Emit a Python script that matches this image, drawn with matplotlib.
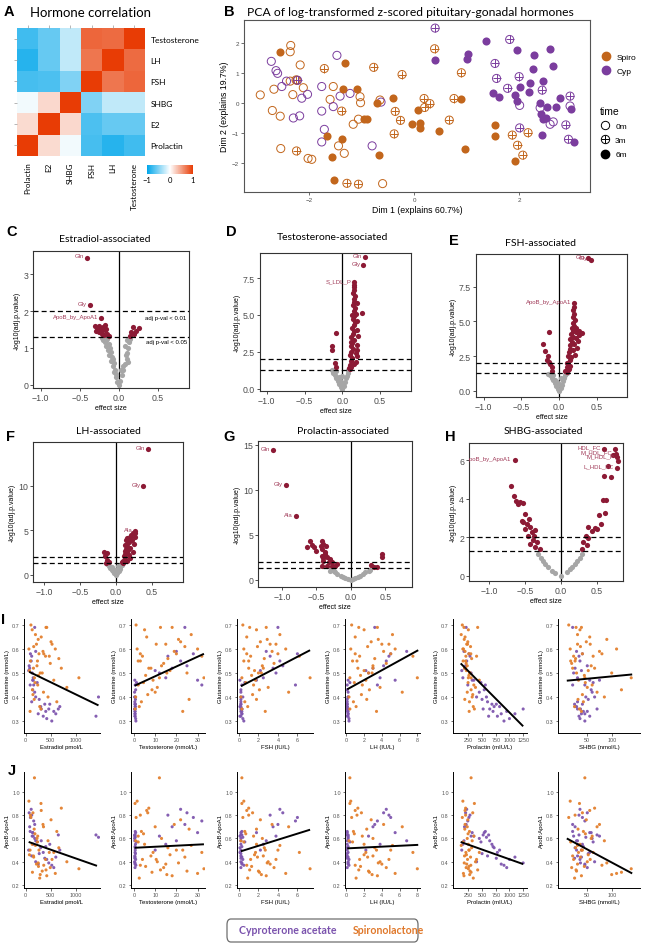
import numpy as np
import matplotlib
matplotlib.use("Agg")
import matplotlib.pyplot as plt
from matplotlib.colors import LinearSegmentedColormap
from matplotlib.lines import Line2D
from matplotlib.patches import FancyBboxPatch

# ---------------- data ----------------
# A: hormone correlation (rows top->bottom, columns left->right)
corr_rows = ["Testosterone", "LH", "FSH", "SHBG", "E2", "Prolactin"]
corr_cols = ["Prolactin", "E2", "SHBG", "FSH", "LH", "Testosterone"]
corr_vals = [
    [-0.75, -0.60, -0.25, 0.78, 0.75, 1.00],
    [-0.85, -0.60, -0.25, 0.70, 1.00, 0.75],
    [-0.72, -0.70, -0.50, 1.00, 0.70, 0.78],
    [-0.05, 0.20, 1.00, -0.50, -0.25, -0.25],
    [0.18, 1.00, 0.20, -0.70, -0.60, -0.60],
    [1.00, 0.18, -0.05, -0.72, -0.85, -0.75],
]

# B: PCA scores (dim1, dim2), arm and time point
pca_spiro_6m = [(-2.55, 1.72), (-1.31, 1.33), (-1.35, 0.49), (-1.09, 0.47), (-0.71, 0.01),
                (-0.41, 0.17), (-0.95, -0.53), (-0.89, -0.51), (-1.66, -1.09), (-1.37, -1.18),
                (-1.56, -1.78), (-0.66, -1.72), (-1.52, -2.57), (-0.04, -0.70), (0.08, -0.23),
                (0.12, -0.67), (0.12, -0.83), (0.48, -0.93), (0.90, 0.16), (0.97, -1.51),
                (1.54, -0.73), (1.55, -1.08), (1.93, -1.94)]
pca_spiro_0m = [(-2.93, 0.28), (-2.67, 0.47), (-2.55, -0.43), (-2.70, -0.24), (-2.54, -1.51),
                (-2.35, 1.93), (-2.36, 1.72), (-2.17, 1.28), (-2.36, 0.74), (-2.31, 0.29),
                (-2.23, 0.77), (-2.11, 0.52), (-2.02, -1.84), (-1.95, -1.87), (-1.54, 0.56),
                (-1.44, -1.42), (-1.33, -1.67), (-1.16, -0.70), (-1.06, -0.53), (-1.03, 0.22),
                (-1.02, 0.02), (-0.65, 0.11), (-0.60, -2.68), (-1.60, 0.13)]
pca_spiro_3m = [(-1.71, 1.16), (-0.77, 1.20), (-0.23, 0.96), (0.39, 1.82), (0.90, 1.02),
                (-2.24, -1.59), (-1.38, -0.26), (-0.36, -0.27), (-0.26, -0.57), (-0.38, -1.02),
                (-1.28, -2.67), (-1.06, -2.70), (0.19, 0.16), (0.30, -0.01), (0.20, -0.14),
                (0.67, -0.56), (0.76, 0.16), (1.87, -1.06), (2.17, -0.98), (1.97, -1.40),
                (2.07, -1.73), (-2.25, 0.78)]
pca_cyp_6m = [(0.39, 1.44), (1.02, 1.63), (1.00, 1.49), (1.36, 2.08), (1.96, 1.78),
              (2.29, 1.60), (2.58, 1.80), (2.64, 1.24), (2.27, 1.13), (2.46, 0.74),
              (2.21, 0.67), (2.02, 0.56), (1.51, 0.36), (1.62, 0.21), (1.92, 0.27),
              (1.96, 0.09), (2.18, 0.38), (2.39, 0.00), (2.53, -0.14), (2.78, 0.17),
              (2.70, -0.14), (2.98, -0.20), (2.42, -0.37), (2.46, -0.53), (2.51, -0.50),
              (2.43, -1.06), (3.05, -1.28)]
pca_cyp_0m = [(-2.72, 1.40), (-2.63, 1.09), (-2.60, 1.00), (-1.47, 1.60), (-2.43, 0.74),
              (-2.52, 0.56), (-2.30, -0.49), (-2.18, -0.42), (-2.14, 0.17), (-2.03, 0.30),
              (-1.76, 0.56), (-1.76, -0.26), (-1.54, -0.11), (-1.41, 0.24), (-1.22, 0.33),
              (-1.71, -0.87), (-1.76, -1.29), (-0.80, -1.42), (-0.63, 0.04), (2.01, -0.07),
              (2.65, -0.62), (2.59, -0.70), (2.97, -0.09), (2.40, -0.15)]
pca_cyp_3m = [(0.40, 2.51), (1.82, 2.13), (1.54, 1.33), (1.57, 0.83), (1.78, 0.50),
              (2.00, 0.89), (2.44, 0.44), (2.97, 0.24), (2.89, -0.72), (2.01, -0.82),
              (2.94, -1.20), (-2.22, 0.77)]

# C-H: volcano plots (effect size, -log10 adj p)
vol_estradiol = [(-0.405, 3.45), (-0.37, 2.16), (-0.225, 1.81),
                 (-0.31, 1.58), (-0.28, 1.55), (-0.25, 1.60), (-0.22, 1.52), (-0.20, 1.57),
                 (-0.18, 1.48), (-0.16, 1.52), (-0.29, 1.45), (-0.25, 1.42), (-0.21, 1.38),
                 (-0.15, 1.38), (-0.12, 1.33), (-0.27, 1.48), (-0.18, 1.62), (-0.23, 1.45),
                 (-0.19, 1.34), (0.18, 1.56), (0.26, 1.55), (0.22, 1.47), (0.16, 1.42),
                 (0.20, 1.38), (0.14, 1.32),
                 (0.0, 0.0), (-0.02, 0.08), (-0.04, 0.20), (-0.06, 0.35), (-0.08, 0.50),
                 (-0.10, 0.65), (-0.12, 0.80), (-0.14, 0.95), (-0.16, 1.05), (-0.18, 1.15),
                 (-0.20, 1.22), (-0.22, 1.28), (-0.05, 0.40), (-0.09, 0.75), (-0.13, 1.10),
                 (-0.07, 0.70), (-0.11, 1.00), (-0.15, 1.25), (-0.03, 0.30), (-0.06, 0.60),
                 (0.02, 0.10), (0.04, 0.25), (0.06, 0.40), (0.08, 0.55), (0.10, 0.70),
                 (0.11, 0.85), (0.12, 1.00), (0.13, 1.15), (0.14, 1.25), (0.05, 0.50),
                 (0.09, 0.80), (0.03, 0.40), (-0.10, 0.90), (-0.17, 1.20), (0.08, 1.05),
                 (0.10, 1.20), (0.12, 0.62)]
lab_estradiol = [("Gln", -0.405, 3.45), ("Gly", -0.37, 2.16), ("ApoB_by_ApoA1", -0.225, 1.81)]

vol_testosterone = [(0.30, 8.92), (0.28, 8.40), (0.16, 7.23), (0.26, 5.13),
                    (-0.09, 3.77), (-0.14, 2.87), (-0.13, 2.64), (-0.10, 1.74), (-0.08, 1.47),
                    (0.09, 1.4), (0.10, 1.6), (0.12, 1.5), (0.11, 1.9), (0.13, 2.1), (0.10, 2.3),
                    (0.12, 2.5), (0.14, 2.7), (0.11, 2.9), (0.13, 3.1), (0.15, 3.3), (0.12, 3.5),
                    (0.14, 3.7), (0.16, 3.9), (0.13, 4.1), (0.15, 4.3), (0.17, 4.5), (0.14, 4.7),
                    (0.16, 4.9), (0.18, 5.1), (0.15, 5.3), (0.17, 5.5), (0.14, 5.7), (0.16, 5.9),
                    (0.15, 6.1), (0.17, 6.3), (0.14, 6.5), (0.16, 6.7), (0.15, 6.9), (0.16, 7.05),
                    (0.20, 3.0), (0.19, 4.0), (0.20, 2.2), (0.18, 1.8), (0.21, 3.6), (0.19, 2.6),
                    (0.10, 1.32), (0.16, 1.7), (0.18, 2.4), (0.12, 3.2), (0.20, 4.6), (0.13, 5.0),
                    (0.19, 5.8),
                    (0.0, 0.0), (-0.02, 0.15), (-0.04, 0.35), (-0.06, 0.55), (-0.08, 0.75),
                    (-0.10, 0.95), (-0.12, 1.10), (-0.13, 1.25), (-0.05, 0.80), (-0.08, 1.20),
                    (-0.03, 0.60), (0.02, 0.20), (0.04, 0.45), (0.05, 0.70), (0.06, 0.90),
                    (0.07, 1.10), (0.08, 1.25), (-0.01, 0.40), (0.00, 0.90), (-0.10, 1.28)]
lab_testosterone = [("Gln", 0.30, 8.92), ("Gly", 0.28, 8.40), ("S_LDL_P", 0.16, 7.23)]

vol_fsh = [(0.39, 9.55), (0.42, 9.45), (0.20, 6.33),
           (-0.13, 4.22), (-0.21, 3.38), (-0.18, 2.83), (-0.15, 2.47), (-0.13, 2.07),
           (-0.10, 1.70), (-0.09, 1.40), (-0.12, 1.90), (-0.16, 2.20),
           (0.08, 1.4), (0.10, 1.7), (0.12, 1.5), (0.11, 2.0), (0.14, 2.2), (0.12, 2.5),
           (0.16, 2.4), (0.13, 2.8), (0.15, 3.0), (0.18, 2.9), (0.14, 3.3), (0.17, 3.5),
           (0.20, 3.4), (0.15, 3.7), (0.18, 3.9), (0.22, 3.8), (0.16, 4.1), (0.19, 4.3),
           (0.23, 4.2), (0.30, 4.15), (0.27, 4.0), (0.17, 4.5), (0.20, 4.7), (0.18, 4.9),
           (0.21, 5.1), (0.19, 5.3), (0.20, 5.5), (0.19, 5.8), (0.20, 6.0), (0.10, 1.32),
           (0.14, 1.8), (0.21, 2.6), (0.24, 3.1), (0.25, 3.6), (0.13, 1.6), (0.22, 4.5),
           (0.26, 4.3),
           (0.0, 0.0), (-0.02, 0.15), (-0.04, 0.35), (-0.06, 0.55), (-0.08, 0.75),
           (-0.10, 0.95), (-0.12, 1.10), (-0.14, 1.22), (-0.05, 0.80), (-0.08, 1.15),
           (-0.03, 0.60), (0.02, 0.20), (0.04, 0.45), (0.05, 0.70), (0.06, 0.90),
           (0.08, 1.10), (0.10, 1.25), (0.00, 0.50), (0.02, 0.90)]
lab_fsh = [("Gln", 0.39, 9.55), ("Gly", 0.42, 9.45), ("ApoB_by_ApoA1", 0.20, 6.33)]

vol_lh = [(0.45, 14.1), (0.38, 10.0), (0.27, 4.9),
          (-0.17, 2.55), (-0.12, 2.40), (-0.15, 2.10), (-0.13, 1.70), (-0.10, 1.47),
          (-0.14, 1.35),
          (0.08, 1.4), (0.10, 1.6), (0.12, 1.8), (0.11, 2.1), (0.13, 2.3), (0.15, 2.5),
          (0.12, 2.7), (0.14, 2.9), (0.16, 3.1), (0.13, 3.3), (0.15, 3.5), (0.18, 3.7),
          (0.14, 3.9), (0.16, 4.1), (0.19, 4.3), (0.21, 4.5), (0.24, 4.7), (0.27, 4.75),
          (0.22, 3.9), (0.25, 3.5), (0.20, 3.0), (0.23, 2.6), (0.18, 2.2), (0.20, 1.9),
          (0.16, 1.6), (0.10, 1.32), (0.26, 4.2), (0.17, 2.8), (0.12, 1.5),
          (0.0, 0.0), (-0.02, 0.20), (-0.04, 0.40), (-0.06, 0.60), (-0.08, 0.80),
          (-0.10, 1.00), (-0.12, 1.20), (-0.05, 0.90), (-0.03, 0.60), (0.02, 0.20),
          (0.04, 0.45), (0.05, 0.70), (0.06, 0.90), (0.08, 1.10), (0.09, 1.25),
          (0.00, 0.60), (0.03, 1.00)]
lab_lh = [("Gln", 0.45, 14.1), ("Gly", 0.38, 10.0), ("Ala", 0.27, 4.9)]

vol_prolactin = [(-1.13, 14.4), (-0.95, 10.55), (-0.80, 7.06),
                 (-0.60, 4.35), (-0.64, 3.68), (-0.57, 3.87), (-0.53, 3.60), (-0.50, 3.23),
                 (-0.42, 4.35), (-0.40, 3.97), (-0.42, 3.42), (-0.37, 3.05), (-0.42, 2.68),
                 (-0.35, 2.49), (-0.40, 2.12), (-0.32, 1.93), (-0.28, 2.00), (-0.35, 1.56),
                 (-0.28, 1.56), (-0.23, 1.49), (-0.30, 2.30), (-0.36, 3.72), (-0.38, 2.86),
                 (-0.42, 1.56), (-0.20, 1.75), (-0.44, 3.80), (-0.41, 2.40),
                 (0.45, 2.86), (0.45, 2.49), (0.30, 1.64), (0.34, 1.45), (0.38, 1.38),
                 (-0.25, 1.00), (-0.20, 0.63), (-0.15, 0.37), (-0.08, 0.15), (0.0, 0.0),
                 (0.06, 0.15), (0.14, 0.45), (0.21, 0.82), (0.28, 1.10), (-0.29, 1.20),
                 (-0.23, 0.82), (-0.12, 0.26), (0.11, 0.26), (0.26, 1.00), (-0.30, 0.95),
                 (0.18, 0.62), (-0.04, 0.05), (0.03, 0.05)]
lab_prolactin = [("Gln", -1.13, 14.4), ("Gly", -0.95, 10.55), ("Ala", -0.80, 7.06)]

vol_shbg = [(-0.645, 6.0),
            (0.59, 6.60), (0.75, 6.57), (0.76, 6.34), (0.78, 6.17), (0.72, 6.28),
            (0.79, 5.97), (0.77, 5.62), (0.65, 5.71), (0.60, 5.17), (0.70, 5.14),
            (-0.69, 4.67), (-0.65, 4.16), (-0.62, 3.90), (-0.575, 3.86), (-0.53, 3.81),
            (-0.60, 3.72), (-0.50, 3.20), (-0.55, 2.86), (-0.48, 2.69), (-0.43, 2.52),
            (-0.50, 2.43), (-0.41, 2.26), (-0.36, 2.38), (-0.46, 2.09), (-0.39, 1.86),
            (-0.34, 1.74), (-0.43, 1.66), (-0.36, 1.48), (-0.29, 1.40), (-0.53, 2.78),
            (-0.45, 2.95), (-0.38, 2.10),
            (0.58, 3.93), (0.63, 3.93), (0.61, 3.26), (0.52, 3.16), (0.56, 2.69),
            (0.47, 2.48), (0.38, 2.52), (0.43, 2.31), (0.34, 2.09), (0.38, 1.97),
            (0.31, 1.74), (0.36, 1.62), (0.29, 1.40), (0.50, 2.43),
            (-0.32, 1.14), (-0.25, 0.79), (-0.18, 0.45), (-0.08, 0.14), (0.0, 0.0),
            (0.08, 0.19), (0.15, 0.45), (0.22, 0.79), (0.29, 1.14), (-0.22, 0.62),
            (0.13, 0.36), (-0.28, 0.95), (0.26, 0.95), (-0.12, 0.28), (0.19, 0.62)]
lab_shbg = [("ApoB_by_ApoA1", -0.645, 6.0), ("HDL_FC", 0.59, 6.60), ("M_HDL_FC", 0.76, 6.34),
            ("M_HDL_P", 0.78, 6.17), ("L_HDL_FC", 0.77, 5.62)]

# I-J: per-subject hormone and metabolite values (Cyp first, then Spiro)
subject_group = ["Cyp"] * 36 + ["Spiro"] * 44
estradiol = [120, 250, 300, 180, 420, 560, 650, 480, 350, 90, 200, 310, 520, 600, 680, 150, 270, 400,
             1400, 1450, 230, 380, 460, 140,
             80, 110, 150, 95, 130, 70, 200, 160, 120, 60, 180, 140,
             65, 95, 130, 155, 175, 215, 240, 265, 310, 330, 355, 395, 420, 445, 490, 505, 560, 590,
             620, 660, 710, 820, 1060, 105, 160, 225, 280, 345, 255, 195, 135, 75, 305, 250, 185,
             405, 470, 145, 235, 290, 525, 170, 360, 88]
testosterone = [0.4, 0.5, 0.6, 0.3, 0.8, 0.5, 0.4, 0.7, 0.5, 0.6, 0.3, 0.4, 0.9, 0.5, 0.6, 0.4, 0.7, 0.5,
                0.5, 0.6, 1.2, 0.4, 0.5, 0.8,
                18, 22, 15, 28, 12, 25, 20, 32, 16, 10, 24, 30,
                1.5, 3, 5, 8, 12, 15, 2, 20, 6, 25, 10, 4, 18, 0.8, 14, 22, 9, 30, 3.5, 16, 7, 11, 33,
                1, 24, 13, 2.5, 19, 5.5, 27, 8.5, 17, 0.5, 21, 4.5, 12.5, 32, 6.5, 2, 15.5, 10.5, 26,
                3, 23]
fsh = [0.2, 0.3, 0.1, 0.2, 0.4, 0.2, 0.3, 0.2, 0.1, 0.3, 0.2, 0.2, 0.5, 0.3, 0.2, 0.1, 0.2, 0.3,
       0.2, 0.4, 0.6, 0.2, 0.3, 0.2,
       3.5, 4.2, 2.5, 6.0, 3.8, 4.5, 2.8, 5.8, 3.2, 2.2, 4.0, 1.8,
       0.5, 1.0, 1.8, 2.5, 0.3, 3.2, 1.5, 4.0, 0.8, 2.0, 5.1, 1.2, 2.8, 0.2, 3.6, 2.2, 1.7, 4.8,
       0.6, 2.6, 1.0, 3.0, 7.3, 0.4, 1.9, 2.4, 0.9, 3.4, 1.3, 4.2, 2.1, 1.6, 0.3, 2.9, 0.7, 1.1,
       6.2, 1.4, 0.5, 2.3, 3.8, 1.8, 0.8, 2.7]
lh = [0.1, 0.2, 0.1, 0.2, 0.3, 0.1, 0.2, 0.1, 0.2, 0.1, 0.2, 0.1, 0.3, 0.2, 0.1, 0.2, 0.1, 0.2,
      0.1, 0.2, 0.4, 0.1, 0.2, 0.1,
      3.0, 4.5, 3.8, 5.0, 2.5, 4.2, 6.8, 3.5, 4.8, 2.2, 3.2, 5.5,
      0.5, 1.2, 2.0, 3.0, 0.4, 4.0, 1.8, 5.0, 1.0, 2.5, 6.3, 1.5, 3.5, 0.3, 4.5, 2.8, 2.2, 5.5,
      0.8, 3.2, 1.3, 3.8, 8.0, 0.6, 2.4, 3.0, 1.1, 4.2, 1.6, 5.2, 2.6, 2.0, 0.4, 3.6, 0.9, 1.4,
      7.5, 1.7, 0.7, 2.9, 4.8, 2.3, 1.0, 3.4]
prolactin = [600, 850, 720, 450, 1000, 950, 520, 680, 780, 560, 400, 640, 900, 1100, 820, 350, 500,
             700, 620, 580, 480, 760, 1250, 540,
             180, 220, 150, 260, 300, 200, 170, 240, 280, 130, 210, 320,
             150, 200, 250, 180, 300, 220, 350, 260, 190, 280, 230, 400, 170, 320, 210, 240, 450,
             160, 270, 310, 200, 380, 250, 140, 290, 230, 340, 190, 260, 120, 300, 215, 360, 175,
             245, 420, 205, 330, 155, 275, 235, 185, 295, 265]
shbg = [30, 45, 25, 60, 35, 50, 70, 40, 55, 20, 65, 30, 45, 38, 28, 75, 52, 42, 33, 47, 62, 24, 36, 58,
        25, 35, 30, 40, 22, 50, 28, 45, 33, 38, 20, 55,
        15, 25, 35, 20, 45, 30, 60, 40, 55, 28, 70, 22, 38, 85, 18, 48, 32, 110, 42, 26, 65, 50, 140,
        12, 36, 58, 24, 75, 44, 30, 120, 52, 34, 90, 46, 27, 62, 40, 16, 100, 56, 31, 80, 38]
glutamine = [0.38, 0.33, 0.36, 0.42, 0.31, 0.34, 0.35, 0.37, 0.32, 0.45, 0.40, 0.35, 0.30, 0.33,
             0.36, 0.47, 0.39, 0.34, 0.32, 0.40, 0.46, 0.37, 0.35, 0.43,
             0.52, 0.55, 0.48, 0.58, 0.50, 0.53, 0.59, 0.45, 0.57, 0.51, 0.69, 0.47,
             0.60, 0.55, 0.68, 0.52, 0.48, 0.62, 0.45, 0.58, 0.65, 0.50, 0.42, 0.57, 0.69, 0.40,
             0.54, 0.63, 0.47, 0.60, 0.38, 0.56, 0.52, 0.44, 0.48, 0.70, 0.61, 0.53, 0.36, 0.59,
             0.49, 0.66, 0.43, 0.51, 0.35, 0.64, 0.46, 0.69, 0.57, 0.41, 0.55, 0.50, 0.62, 0.39,
             0.58, 0.34]
apob_apoa1 = [0.45, 0.38, 0.52, 0.60, 0.42, 0.35, 0.63, 0.55, 0.48, 0.66, 0.40, 0.58, 0.37, 0.44,
              0.50, 0.62, 0.47, 0.53, 0.63, 0.61, 0.57, 0.43, 0.39, 0.65,
              0.70, 0.85, 0.55, 0.78, 0.62, 0.82, 0.58, 0.75, 0.80, 0.50, 0.72, 0.65,
              0.92, 0.80, 0.55, 0.45, 1.12, 0.38, 0.62, 0.50, 0.84, 0.32, 0.70, 0.42, 0.28, 0.58,
              0.35, 0.76, 0.48, 0.30, 0.66, 0.52, 0.86, 0.40, 0.34, 0.78, 0.44, 0.60, 0.26, 0.72,
              0.36, 0.54, 0.31, 0.46, 0.90, 0.39, 0.64, 0.33, 0.48, 0.82, 0.57, 0.29, 0.42, 0.68,
              0.37, 0.50]
hormone_labels = ["Estradiol pmol/L", "Testosterone (nmol/L)", "FSH (IU/L)", "LH (IU/L)",
                  "Prolactin (mIU/L)", "SHBG (nmol/L)"]
hormone_ticks = [[0, 500, 1000], [0, 10, 20, 30], [0, 2, 4, 6], [0, 2, 4, 6, 8],
                 [250, 500, 750, 1000, 1250], [50, 100]]
# fitted lines: (x start, y start, x end, y end)
gln_fit = [(70, 0.505, 1450, 0.365), (0.3, 0.447, 33, 0.58), (0.2, 0.445, 7.3, 0.595),
           (0.1, 0.432, 8.1, 0.595), (110, 0.54, 1250, 0.278), (8, 0.468, 142, 0.494)]
apob_fit = [(60, 0.57, 1420, 0.365), (0.3, 0.52, 33, 0.55), (0.2, 0.49, 7.3, 0.675),
            (0.1, 0.515, 8.1, 0.545), (110, 0.57, 1250, 0.38), (8, 0.60, 142, 0.30)]

# ---------------- style ----------------
W, H = 650, 945
SPIRO, CYP = "#c2661c", "#7b3d9e"
ORANGE, PURPLE = "#e3802e", "#7e56ae"
SIG_RED, GREY = "#8c1a35", "#a6a6a6"
SANS = ["Liberation Sans", "DejaVu Sans"]
TITLE = ["Lato", "DejaVu Sans"]
P05 = -np.log10(0.05)

plt.rcParams["font.family"] = SANS
fig = plt.figure(figsize=(W / 100, H / 100), dpi=100)


def box(l, t, r, b):
    return [l / W, 1 - b / H, (r - l) / W, (b - t) / H]


def fx(x):
    return x / W


def fy(y):
    return 1 - y / H


def letter(s, x, y):
    fig.text(fx(x), fy(y), s, fontsize=10.5, fontweight="bold", ha="left", va="center")


def title(s, x, y, size=7.5, ha="center"):
    fig.text(fx(x), fy(y), s, fontsize=size, family=TITLE, ha=ha, va="center")


# ---------------- A ----------------
cmap = LinearSegmentedColormap.from_list("rb", ["#00a6ea", "#ffffff", "#e83c05"])
ax = fig.add_axes(box(17, 29, 145, 157))
im = ax.imshow(np.array(corr_vals), cmap=cmap, vmin=-1, vmax=1, aspect="auto")
ax.set_xticks(range(len(corr_cols)))
ax.set_xticklabels(corr_cols, rotation=90, family=TITLE, fontsize=5.8)
ax.set_yticks(range(len(corr_rows)))
ax.set_yticklabels(corr_rows, family=TITLE, fontsize=6)
ax.tick_params(top=True, left=True, bottom=False, right=False, labeltop=False, labelleft=False,
               labelright=True, labelbottom=True, length=2, width=0.5, color="#999999", pad=2)
for s in ax.spines.values():
    s.set_visible(False)
cax = fig.add_axes(box(147, 166, 193, 175))
cb = fig.colorbar(im, cax=cax, orientation="horizontal", ticks=[-1, 0, 1])
cb.outline.set_visible(False)
cb.ax.tick_params(labelsize=5.5, length=0, pad=1.5)
for t in cb.ax.get_xticklabels():
    t.set_family(TITLE)
letter("A", 4, 12)
title("Hormone correlation", 30, 13, size=9.5, ha="left")

# ---------------- B ----------------
ax = fig.add_axes(box(244, 21, 590, 193))
for pts, col in [(pca_spiro_0m, SPIRO), (pca_cyp_0m, CYP)]:
    a = np.array(pts)
    ax.scatter(a[:, 0], a[:, 1], s=34, facecolors="none", edgecolors=col, linewidths=0.7)
for pts, col in [(pca_spiro_3m, SPIRO), (pca_cyp_3m, CYP)]:
    a = np.array(pts)
    ax.scatter(a[:, 0], a[:, 1], s=34, facecolors="none", edgecolors=col, linewidths=0.7)
    ax.scatter(a[:, 0], a[:, 1], s=34, marker="+", c=col, linewidths=0.7)
for pts, col in [(pca_spiro_6m, SPIRO), (pca_cyp_6m, CYP)]:
    a = np.array(pts)
    ax.scatter(a[:, 0], a[:, 1], s=34, c=col, linewidths=0)
ax.set_xlim(-3.24, 3.35)
ax.set_ylim(-2.96, 2.78)
ax.set_xticks([-2, 0, 2])
ax.set_yticks([-2, -1, 0, 1, 2])
ax.tick_params(labelsize=4.5, length=2, width=0.5, color="#333333", labelcolor="#4d4d4d", pad=1.5)
for s in ax.spines.values():
    s.set_color("#555555")
    s.set_linewidth(0.8)
ax.set_xlabel("Dim 1 (explains 60.7%)", fontsize=6.3, labelpad=2)
ax.set_ylabel("Dim 2 (explains 19.7%)", fontsize=6.3, labelpad=2)
h_arm = [Line2D([], [], ls="", marker="o", ms=6, mfc=c, mec=c) for c in (SPIRO, CYP)]
leg1 = fig.legend(h_arm, ["Spiro", "Cyp"], loc="upper left", bbox_to_anchor=(fx(597), fy(50)),
                  frameon=False, fontsize=6, handletextpad=0.6, labelspacing=0.75,
                  handlelength=1.2, borderpad=0)
h_time = [Line2D([], [], ls="", marker="o", ms=6, mfc="none", mec="black", mew=0.7),
          (Line2D([], [], ls="", marker="o", ms=6, mfc="none", mec="black", mew=0.7),
           Line2D([], [], ls="", marker="+", ms=6, mec="black", mew=0.7)),
          Line2D([], [], ls="", marker="o", ms=6, mfc="black", mec="black")]
leg2 = fig.legend(h_time, ["0m", "3m", "6m"], title="time", loc="upper left",
                  bbox_to_anchor=(fx(596), fy(103)), frameon=False, fontsize=6,
                  title_fontsize=7.5, handletextpad=0.6, labelspacing=0.75, handlelength=1.2,
                  borderpad=0, alignment="left")
letter("B", 224, 12)
title("PCA of log-transformed z-scored pituitary-gonadal hormones", 247, 12, size=8.7, ha="left")


# ---------------- C-H ----------------
def volcano(pos, pts, labels, xlim, ylim, yticks, ylabels, note=False):
    ax = fig.add_axes(box(*pos))
    a = np.array(pts)
    sig = a[:, 1] >= P05
    ax.axvline(0, color="black", lw=0.9, zorder=1)
    ax.scatter(a[~sig, 0], a[~sig, 1], s=14, c=GREY, linewidths=0, zorder=2)
    ax.scatter(a[sig, 0], a[sig, 1], s=14, c=SIG_RED, linewidths=0, zorder=3)
    ax.axhline(2, color="black", lw=0.9, ls=(0, (4, 2.5)), zorder=4)
    ax.axhline(P05, color="black", lw=0.9, ls=(0, (4, 2.5)), zorder=4)
    for name, x, y in labels:
        t = ax.annotate(name, (x, y), xytext=(-2.2, 1.2), textcoords="offset points",
                        ha="right", va="center", fontsize=4.3, color="#a03a58", zorder=5)
        t.set_clip_path(ax.patch)
    if note:
        ax.text(0.87, 1.83, "adj p-val < 0.01", fontsize=4.3, ha="right", va="center")
        ax.text(0.87, 1.17, "adj p-val < 0.05", fontsize=4.3, ha="right", va="center")
    ax.set_xlim(*xlim)
    ax.set_ylim(*ylim)
    ax.set_xticks([-1, -0.5, 0, 0.5])
    ax.set_xticklabels(["\u22121.0", "\u22120.5", "0.0", "0.5"])
    ax.set_yticks(yticks)
    ax.set_yticklabels(ylabels)
    ax.tick_params(labelsize=6.3, length=2, width=0.6, color="#333333", labelcolor="#4d4d4d",
                   pad=1.5)
    for s in ax.spines.values():
        s.set_color("#333333")
        s.set_linewidth(0.8)
    ax.set_xlabel("effect size", fontsize=5, labelpad=1.5)
    ax.set_ylabel("-log10(adj.p.value)", fontsize=5, labelpad=1.5)
    return ax


volcano((33, 252, 189, 389), vol_estradiol, lab_estradiol, (-1.10, 0.90), (-0.09, 3.63),
        [0, 1, 2, 3], ["0", "1", "2", "3"], note=True)
letter("C", 6, 232)
title("Estradiol-associated", 105, 240)

volcano((260, 254, 411, 392), vol_testosterone, lab_testosterone, (-1.09, 0.91), (-0.15, 9.2),
        [0, 2.5, 5, 7.5], ["0.0", "2.5", "5.0", "7.5"])
letter("D", 226, 232)
title("Testosterone-associated", 332, 238)

volcano((476, 255, 627, 398), vol_fsh, lab_fsh, (-1.10, 0.90), (-0.45, 9.85),
        [0, 2.5, 5, 7.5], ["0.0", "2.5", "5.0", "7.5"])
letter("E", 449, 241)
title("FSH-associated", 541, 243)

volcano((33, 443, 183, 583), vol_lh, lab_lh, (-1.15, 0.93), (-0.8, 14.9),
        [0, 5, 10], ["0", "5", "10"])
letter("F", 6, 437)
title("LH-associated", 108, 431)

volcano((258, 442, 412, 588), vol_prolactin, lab_prolactin, (-1.35, 0.89), (-0.8, 15.4),
        [0, 5, 10, 15], ["0", "5", "10", "15"])
letter("G", 223, 437)
title("Prolactin-associated", 343, 431)

volcano((469, 444, 623, 582), vol_shbg, lab_shbg, (-1.28, 0.86), (-0.26, 6.9),
        [0, 2, 4, 6], ["0", "2", "4", "6"])
letter("H", 445, 437)
title("SHBG-associated", 543, 432)

# ---------------- I-J ----------------
hormones = [estradiol, testosterone, fsh, lh, prolactin, shbg]
xlims = [(-33, 1480), (-1.4, 33.5), (-0.2, 7.6), (-0.15, 8.3), (-30, 1320), (-10, 158)]
cols = [(24, 100), (131, 205), (237, 313), (345, 420), (453, 527), (558, 640)]
grp = np.array(subject_group)
colors = np.where(grp == "Cyp", PURPLE, ORANGE)


def scatter_row(top, bottom, yvals, fits, ylim, yticks, ylabel):
    y = np.array(yvals)
    for i, xv in enumerate(hormones):
        l, r = cols[i]
        ax = fig.add_axes(box(l, top, r, bottom))
        ax.scatter(np.array(xv), y, s=5, c=colors, linewidths=0, alpha=0.95)
        x0, y0, x1, y1 = fits[i]
        ax.plot([x0, x1], [y0, y1], color="black", lw=1.4, solid_capstyle="butt")
        ax.set_xlim(*xlims[i])
        ax.set_ylim(*ylim)
        ax.set_xticks(hormone_ticks[i])
        ax.set_yticks(yticks)
        ax.yaxis.set_major_formatter(matplotlib.ticker.FormatStrFormatter("%.1f"))
        ax.tick_params(labelsize=3.9, length=1.8, width=0.5, color="#333333",
                       labelcolor="#555555", pad=1.2)
        for s in ("top", "right"):
            ax.spines[s].set_visible(False)
        for s in ("left", "bottom"):
            ax.spines[s].set_linewidth(0.7)
        ax.set_xlabel(hormone_labels[i], fontsize=4.3, labelpad=1.5)
        ax.set_ylabel(ylabel, fontsize=4.3, labelpad=1.5)


scatter_row(620, 734, glutamine, gln_fit, (0.25, 0.725), [0.3, 0.4, 0.5, 0.6, 0.7],
            "Glutamine (mmol/L)")
letter("I", 1, 620)
scatter_row(773, 889, apob_apoa1, apob_fit, (0.175, 1.17), [0.2, 0.4, 0.6, 0.8, 1.0],
            "ApoB:ApoA1")
letter("J", 8, 771)

# ---------------- legend box ----------------
fig.patches.append(FancyBboxPatch((fx(227), fy(943)), fx(418) - fx(227), fy(920) - fy(943),
                                  boxstyle="round,pad=0,rounding_size=0.006",
                                  transform=fig.transFigure, facecolor="white",
                                  edgecolor="#6e6e6e", linewidth=0.9))
fig.text(fx(239), fy(931), "Cyproterone acetate", color="#7a52ad", fontsize=7.6,
         fontweight="bold", family=TITLE, ha="left", va="center")
fig.text(fx(353), fy(931), "Spironolactone", color="#e0782a", fontsize=7.6,
         fontweight="bold", family=TITLE, ha="left", va="center")

fig.savefig("out.png", dpi=100)
